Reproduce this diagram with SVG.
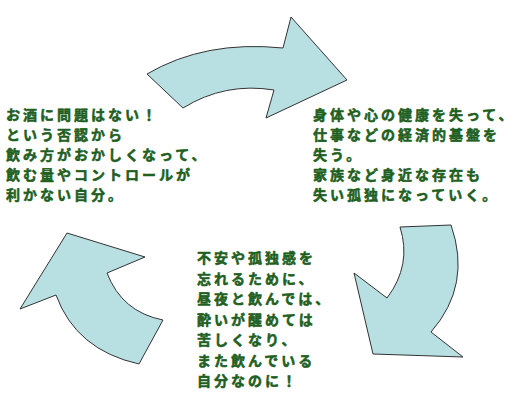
<svg xmlns="http://www.w3.org/2000/svg" width="521" height="405" viewBox="0 0 521 405">
<style>
.arrow{fill:#b8dfe2;stroke:#333;stroke-width:1}
.t{font-family:"Noto Sans CJK JP","Noto Sans CJK SC",sans-serif;font-weight:bold;font-size:14px;letter-spacing:3px;fill:#1f5f1f;stroke:#1f5f1f;stroke-width:0.55;stroke-linejoin:round}
</style>
<rect width="521" height="405" fill="#fff"/>
<g id="connectors">
<path id="arrow-top" class="arrow" d="M147,74 Q205,40 283,48 L291,17 L347,80 L266,118 L274,90 Q225,82 183,108 Z"/>
<path id="arrow-right" class="arrow" d="M400,227 L451,225 Q472,285 431,332 L463,357 L373,354 L354,273 L387,298 Q412,265 400,227 Z"/>
<path id="arrow-left" class="arrow" d="M67,233 L145,257 L107,273 Q122,312 163,320 L139,364 Q76,350 56,295 L20,309 Z"/>
</g>
<g id="node-left">
<text class="t"><tspan x="6" y="120">お酒に問題はない！</tspan><tspan x="6" y="140">という否認から</tspan><tspan x="6" y="160">飲み方がおかしくなって、</tspan><tspan x="6" y="180">飲む量やコントロールが</tspan><tspan x="6" y="200">利かない自分。</tspan></text>
</g>
<g id="node-right">
<text class="t"><tspan x="313" y="120">身体や心の健康を失って、</tspan><tspan x="313" y="140">仕事などの経済的基盤を</tspan><tspan x="313" y="160">失う。</tspan><tspan x="313" y="180">家族など身近な存在も</tspan><tspan x="313" y="200">失い孤独になっていく。</tspan></text>
</g>
<g id="node-bottom">
<text class="t"><tspan x="197" y="263">不安や孤独感を</tspan><tspan x="197" y="283.5">忘れるために、</tspan><tspan x="197" y="304">昼夜と飲んでは、</tspan><tspan x="197" y="324.5">酔いが醒めては</tspan><tspan x="197" y="345">苦しくなり、</tspan><tspan x="197" y="365.5">また飲んでいる</tspan><tspan x="197" y="386">自分なのに！</tspan></text>
</g>
</svg>
